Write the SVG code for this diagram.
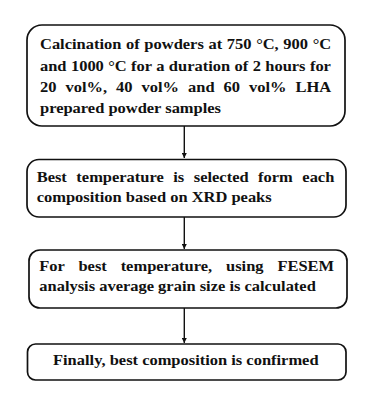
<svg xmlns="http://www.w3.org/2000/svg" width="370" height="395" viewBox="0 0 370 395">
<style>
.box{fill:#fff;stroke:#111;stroke-width:1.7}
.c{stroke:#111;stroke-width:1.4;fill:none}
</style>
<defs>
<marker id="ah" viewBox="0 0 10 10" refX="10" refY="5" markerWidth="5" markerHeight="5" markerUnits="userSpaceOnUse" orient="auto">
<path d="M0,0 L10,5 L0,10 z" fill="#111"/>
</marker>
</defs>
<rect width="370" height="395" fill="#fff"/>
<g id="connectors">
<line class="c" x1="184.3" y1="126" x2="184.3" y2="158" marker-end="url(#ah)"/>
<line class="c" x1="184.3" y1="217" x2="184.3" y2="249" marker-end="url(#ah)"/>
<line class="c" x1="184.3" y1="308" x2="184.3" y2="343" marker-end="url(#ah)"/>
</g>
<g font-family="Liberation Serif, serif" font-weight="bold" font-size="16.47" fill="#111">
<g id="n1">
<rect class="box" x="27" y="25" width="318" height="101" rx="15"/>
<text transform="matrix(1 0 0 0.87 0 49)" x="40" y="0" word-spacing="0.54">Calcination of powders at 750 °C, 900 °C</text>
<text transform="matrix(1 0 0 0.87 0 70.5)" x="40" y="0" word-spacing="0.29">and 1000 °C for a duration of 2 hours for</text>
<text transform="matrix(1 0 0 0.87 0 92)" x="40" y="0" word-spacing="4.9">20 vol%, 40 vol% and 60 vol% LHA</text>
<text transform="matrix(1 0 0 0.87 0 113)" x="40" y="0">prepared powder samples</text>
</g>
<g id="n2">
<rect class="box" x="27" y="159.5" width="319" height="57.5" rx="12"/>
<text transform="matrix(1 0 0 0.87 0 181.7)" x="36.7" y="0" word-spacing="5.4">Best temperature is selected form each</text>
<text transform="matrix(1 0 0 0.87 0 201.7)" x="36.7" y="0">composition based on XRD peaks</text>
</g>
<g id="n3">
<rect class="box" x="29" y="250" width="318" height="58" rx="11"/>
<text transform="matrix(1 0 0 0.87 0 270.7)" x="39.3" y="0" word-spacing="9.75">For best temperature, using FESEM</text>
<text transform="matrix(1 0 0 0.87 0 290.5)" x="39.3" y="0">analysis average grain size is calculated</text>
</g>
<g id="n4">
<rect class="box" x="27.5" y="344" width="318.5" height="36" rx="8"/>
<text transform="matrix(1 0 0 0.87 0 365)" x="53" y="0">Finally, best composition is confirmed</text>
</g>
</g>
</svg>
